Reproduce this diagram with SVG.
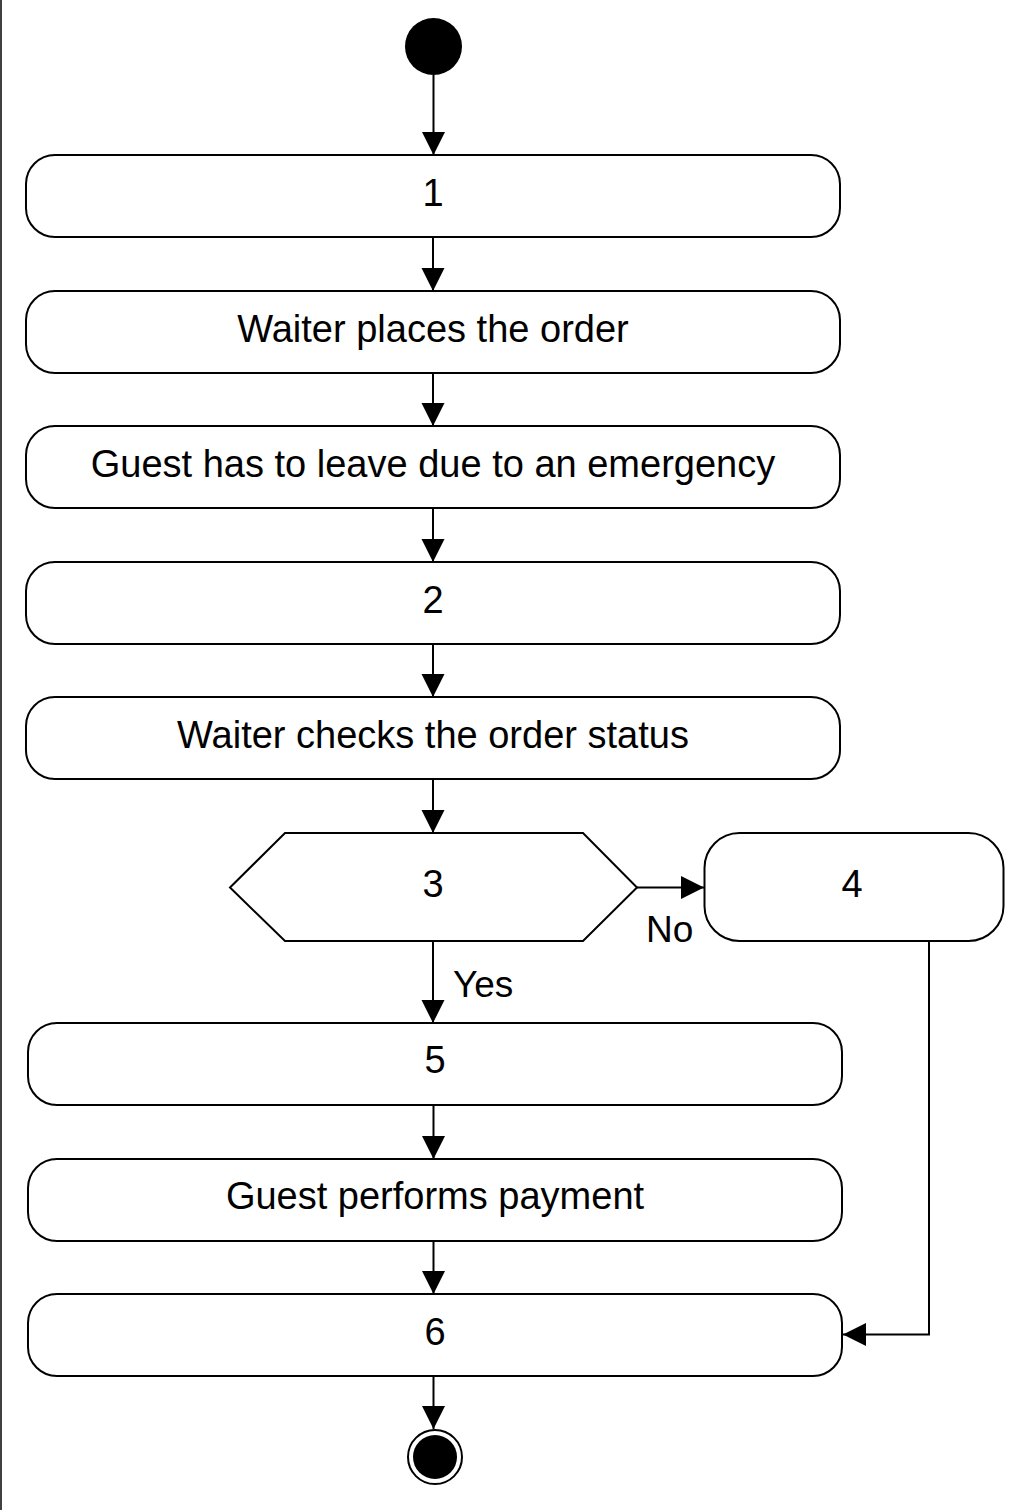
<svg xmlns="http://www.w3.org/2000/svg" width="1028" height="1510" viewBox="0 0 1028 1510">
<style>
.node{fill:#ffffff;stroke:#000000;stroke-width:2}
.lbl{font-family:"Liberation Sans",Arial,Helvetica,sans-serif;font-size:38px;fill:#000000;text-anchor:middle}
.elbl{font-family:"Liberation Sans",Arial,Helvetica,sans-serif;font-size:37px;fill:#000000;text-anchor:start}
.edge{fill:none;stroke:#000000;stroke-width:2;marker-end:url(#arr)}
</style>
<defs>
<marker id="arr" markerUnits="userSpaceOnUse" markerWidth="24" markerHeight="24" refX="23" refY="12" orient="auto">
<path d="M0,0.5 L23,12 L0,23.5 Z" fill="#000000"/>
</marker>
</defs>
<rect x="0" y="0" width="1028" height="1510" fill="#ffffff"/>
<line x1="1" y1="0" x2="1" y2="1510" stroke="#000000" stroke-width="1.5"/>
<g id="connectors">
<path class="edge" d="M433.5,75 V155"/>
<path class="edge" d="M433,237 V291"/>
<path class="edge" d="M433,373 V426"/>
<path class="edge" d="M433,508 V562"/>
<path class="edge" d="M433,644 V697"/>
<path class="edge" d="M433,779 V833"/>
<path class="edge" d="M637,887.5 H704"/>
<path class="edge" d="M433,941 V1023"/>
<path class="edge" d="M433.5,1105 V1159"/>
<path class="edge" d="M433.5,1241 V1294"/>
<path class="edge" d="M929,941 V1334.5 H843"/>
<path class="edge" d="M433.5,1376 V1429"/>
<text class="elbl" x="646" y="942">No</text>
<text class="elbl" x="453" y="997">Yes</text>
</g>
<g id="start"><circle cx="433.5" cy="46.5" r="28.5" fill="#000000"/></g>
<g id="n1"><rect class="node" x="26" y="155" width="814" height="82" rx="29" ry="29"/><text class="lbl" x="433" y="205.5">1</text></g>
<g id="n_place"><rect class="node" x="26" y="291" width="814" height="82" rx="29" ry="29"/><text class="lbl" x="433" y="341.5">Waiter places the order</text></g>
<g id="n_leave"><rect class="node" x="26" y="426" width="814" height="82" rx="29" ry="29"/><text class="lbl" x="433" y="477">Guest has to leave due to an emergency</text></g>
<g id="n2"><rect class="node" x="26" y="562" width="814" height="82" rx="29" ry="29"/><text class="lbl" x="433" y="612.5">2</text></g>
<g id="n_check"><rect class="node" x="26" y="697" width="814" height="82" rx="29" ry="29"/><text class="lbl" x="433" y="748">Waiter checks the order status</text></g>
<g id="n3"><polygon class="node" points="230,887.5 285,833 583,833 637,887.5 583,941 285,941"/><text class="lbl" x="433" y="897">3</text></g>
<g id="n4"><rect class="node" x="704.5" y="833" width="299" height="108" rx="35" ry="35"/><text class="lbl" x="852" y="897">4</text></g>
<g id="n5"><rect class="node" x="28" y="1023" width="814" height="82" rx="29" ry="29"/><text class="lbl" x="435" y="1073">5</text></g>
<g id="n_pay"><rect class="node" x="28" y="1159" width="814" height="82" rx="29" ry="29"/><text class="lbl" x="435" y="1209">Guest performs payment</text></g>
<g id="n6"><rect class="node" x="28" y="1294" width="814" height="82" rx="29" ry="29"/><text class="lbl" x="435" y="1345">6</text></g>
<g id="end"><circle cx="435" cy="1457" r="27" fill="#ffffff" stroke="#000000" stroke-width="2"/><circle cx="435" cy="1457" r="22" fill="#000000"/></g>
</svg>
